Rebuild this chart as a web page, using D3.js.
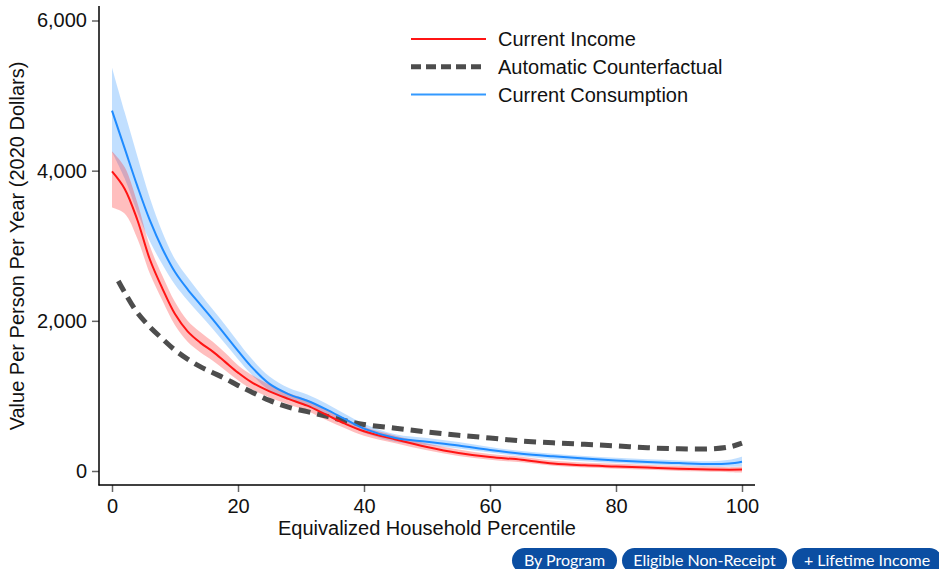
<!DOCTYPE html>
<html>
<head>
<meta charset="utf-8">
<script src="https://cdn.jsdelivr.net/npm/d3@7"></script>
<style>
  body { margin: 0; background: #fff; }
  #wrap { position: relative; width: 939px; height: 569px; overflow: hidden; }
  .btn {
    position: absolute; top: 548px; height: 25px;
    background: #0b4ea2; color: #fff; border-radius: 13px;
    font-family: Lato, "Open Sans", sans-serif; font-size: 16px;
    line-height: 24px; text-align: center; box-sizing: border-box;
  }
</style>
</head>
<body>
<div id="wrap">
  <svg id="chart"></svg>
</div>
<script>
// Perzentile (x-Werte)
const pct     = [0, 2, 4, 6, 8, 10, 12, 14, 16, 18, 20, 22, 25, 28, 31, 34, 37, 40, 45, 50, 55, 60, 65, 70, 75, 80, 85, 90, 95, 98, 100];
const pctDash = [1, 2, 4, 6, 8, 10, 12, 14, 16, 18, 20, 22, 25, 28, 31, 34, 37, 40, 45, 50, 55, 60, 65, 70, 75, 80, 85, 90, 95, 98, 100];

// Current Income (rot) + Konfidenzband
const income   = [3990, 3760, 3350, 2820, 2430, 2090, 1860, 1710, 1590, 1450, 1310, 1190, 1060, 960, 870, 750, 630, 530, 420, 320, 240, 185, 150, 100, 75, 60, 45, 30, 20, 18, 20];
const incomeLo = [3510, 3430, 3100, 2630, 2270, 1940, 1720, 1580, 1470, 1340, 1210, 1100, 980, 890, 800, 680, 570, 470, 370, 275, 200, 150, 115, 70, 45, 30, 15, 0, -10, -15, -20];
const incomeHi = [4260, 4050, 3580, 3000, 2600, 2250, 2000, 1850, 1720, 1570, 1410, 1290, 1150, 1040, 950, 820, 700, 590, 470, 365, 285, 225, 190, 135, 110, 95, 80, 65, 55, 50, 55];

// Current Consumption (blau) + Konfidenzband
const consumption   = [4800, 4300, 3800, 3340, 2960, 2650, 2420, 2220, 2020, 1810, 1600, 1400, 1160, 1025, 935, 820, 690, 565, 440, 390, 340, 280, 230, 195, 165, 140, 120, 105, 93, 100, 124];
const consumptionLo = [4250, 3900, 3450, 3060, 2750, 2480, 2270, 2080, 1890, 1690, 1490, 1300, 1070, 950, 860, 750, 630, 510, 390, 345, 300, 245, 195, 160, 130, 105, 85, 70, 55, 55, 60];
const consumptionHi = [5370, 4780, 4200, 3640, 3180, 2820, 2580, 2360, 2150, 1940, 1720, 1510, 1260, 1110, 1020, 900, 760, 630, 490, 440, 385, 320, 265, 230, 200, 175, 155, 140, 130, 150, 190];

// Automatic Counterfactual (gestrichelt)
const counterfactual = [2530, 2380, 2110, 1920, 1760, 1610, 1490, 1390, 1310, 1230, 1140, 1060, 940, 850, 790, 730, 670, 620, 570, 520, 475, 440, 400, 375, 355, 335, 310, 295, 295, 320, 370];

const yTicks = [0, 2000, 4000, 6000];
const xTicks = [0, 20, 40, 60, 80, 100];
const legendLabels = ["Current Income", "Automatic Counterfactual", "Current Consumption"];
const buttonLabels = ["By Program", "Eligible Non-Receipt", "+ Lifetime Income"];

const width = 939, height = 569;
const font = "'Liberation Sans', Arial, Helvetica, sans-serif";
const fontSize = "20px";
const RED = "#ff1414", BLUE = "#1f8bff", GREY = "#4d4d4d";

const svg = d3.select("#chart")
  .attr("width", width)
  .attr("height", height)
  .style("display", "block");

const x = d3.scaleLinear().domain([0, 100]).range([112, 742]);
const y = d3.scaleLinear().domain([0, 6000]).range([471, 20.5]);

const curve = d3.curveCatmullRom.alpha(0.5);

// Baender
function band(lo, hi, color) {
  const area = d3.area()
    .x((d, i) => x(pct[i]))
    .y0((d, i) => y(lo[i]))
    .y1((d, i) => y(hi[i]))
    .curve(curve);
  svg.append("path")
    .attr("d", area(pct))
    .attr("fill", color)
    .attr("fill-opacity", 0.28);
}
band(consumptionLo, consumptionHi, BLUE);
band(incomeLo, incomeHi, RED);

// Linien
function line(xs, vals, color, w, dash) {
  const gen = d3.line()
    .x((d, i) => x(xs[i]))
    .y(d => y(d))
    .curve(curve);
  svg.append("path")
    .attr("d", gen(vals))
    .attr("fill", "none")
    .attr("stroke", color)
    .attr("stroke-width", w)
    .attr("stroke-dasharray", dash || null);
}
line(pctDash, counterfactual, GREY, 5, "12,7");
line(pct, income, RED, 2);
line(pct, consumption, BLUE, 2);

// Achsen
const yAxis = svg.append("g")
  .attr("transform", "translate(99,0)")
  .call(d3.axisLeft(y).tickValues(yTicks).tickFormat(d3.format(",")).tickSize(7).tickPadding(5).tickSizeOuter(0));
const xAxis = svg.append("g")
  .attr("transform", "translate(0,485)")
  .call(d3.axisBottom(x).tickValues(xTicks).tickSize(7).tickPadding(7).tickSizeOuter(0));

[yAxis, xAxis].forEach(a => {
  a.select(".domain").remove();
  a.selectAll(".tick line").attr("stroke", "#666").attr("stroke-width", 1.5);
  a.selectAll(".tick text")
    .attr("font-family", font)
    .attr("font-size", fontSize)
    .attr("fill", "#111");
});

svg.append("line")
  .attr("x1", 99).attr("x2", 99).attr("y1", 6).attr("y2", 485.5)
  .attr("stroke", "#000").attr("stroke-width", 1.5);
svg.append("line")
  .attr("x1", 98.5).attr("x2", 755).attr("y1", 485).attr("y2", 485)
  .attr("stroke", "#000").attr("stroke-width", 1.5);

// Achsentitel
svg.append("text")
  .attr("transform", "translate(24,246) rotate(-90)")
  .attr("text-anchor", "middle")
  .attr("font-family", font)
  .attr("font-size", fontSize)
  .attr("fill", "#111")
  .text("Value Per Person Per Year (2020 Dollars)");

svg.append("text")
  .attr("x", 427)
  .attr("y", 535)
  .attr("text-anchor", "middle")
  .attr("font-family", font)
  .attr("font-size", fontSize)
  .attr("fill", "#111")
  .text("Equivalized Household Percentile");

// Legende
const legendStyle = [
  { color: RED, w: 2, dash: null },
  { color: GREY, w: 5, dash: "10,5" },
  { color: "#3399ff", w: 2, dash: null }
];
const legend = svg.append("g").attr("transform", "translate(411,39)");
legendLabels.forEach((label, i) => {
  const row = legend.append("g").attr("transform", `translate(0,${i * 27.8})`);
  row.append("line")
    .attr("x1", 0).attr("x2", 75)
    .attr("stroke", legendStyle[i].color)
    .attr("stroke-width", legendStyle[i].w)
    .attr("stroke-dasharray", legendStyle[i].dash);
  row.append("text")
    .attr("x", 87).attr("y", 7)
    .attr("font-family", font)
    .attr("font-size", fontSize)
    .attr("fill", "#111")
    .text(label);
});

// Buttons
const btnLeft = [512, 622, 792];
const btnWidth = [105, 165, 150];
d3.select("#wrap").selectAll("div.btn")
  .data(buttonLabels)
  .join("div")
  .attr("class", "btn")
  .style("left", (d, i) => btnLeft[i] + "px")
  .style("width", (d, i) => btnWidth[i] + "px")
  .text(d => d);
</script>
</body>
</html>
